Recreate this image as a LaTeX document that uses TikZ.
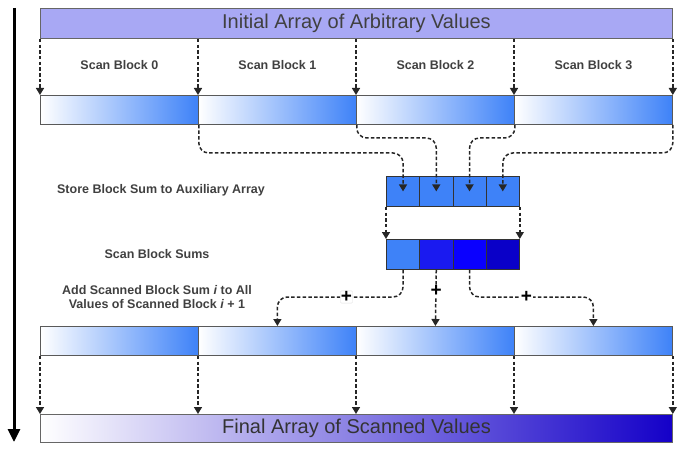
\documentclass[tikz,border=0pt]{standalone}
\usepackage{fontspec}
\setmainfont{Liberation Sans}
\usetikzlibrary{arrows.meta,calc,positioning}
\definecolor{blockblue}{RGB}{62,130,248}
\definecolor{barviolet}{RGB}{168,168,244}
\definecolor{sumA}{RGB}{62,130,248}
\definecolor{sumB}{RGB}{26,26,240}
\definecolor{sumC}{RGB}{10,0,255}
\definecolor{sumD}{RGB}{10,0,200}
\definecolor{finmid}{RGB}{125,100,228}
\definecolor{finend}{RGB}{20,0,200}
\definecolor{labelgray}{RGB}{64,64,64}
\tikzset{
  flow/.style={draw=black!85,line width=1.5pt,dash pattern=on 3.5pt off 2.2pt,
    -{Triangle[length=7pt,width=8pt]}},
  bar/.style={draw=gray!80!black,line width=0.9pt,minimum width=632pt,
    anchor=north west,inner sep=0pt,font=\fontsize{20}{24}\selectfont,text=labelgray},
  blockcell/.style={draw=gray!70!black,line width=0.8pt,left color=white,
    right color=blockblue,minimum width=158pt,minimum height=29pt,
    anchor=north west,inner sep=0pt},
  sumcell/.style={draw=gray!40!black,line width=0.8pt,minimum width=33.25pt,
    minimum height=30pt,anchor=north west,inner sep=0pt},
  steptext/.style={font=\fontsize{12.5}{14}\selectfont\bfseries,text=labelgray,align=center},
  plus/.style={font=\fontsize{19}{19}\selectfont\bfseries,fill=white,inner sep=0.5pt},
}
\begin{document}
\begin{tikzpicture}[x=1pt,y=-1pt]
  \useasboundingbox (0,0) rectangle (684,454);
  % time runs downwards
  \coordinate (tstart) at (14,8);
  \coordinate (tend) at (14,442);
  \draw[line width=3pt,-{Triangle[length=13pt,width=12pt]}] (tstart) -- (tend);

  % input array and the per-block scans
  \node[bar,fill=barviolet,minimum height=30pt] (initarr) at (40,8)
    {Initial Array of Arbitrary Values};
  \foreach \i/\x in {0/40,1/198,2/356,3/514}
    \node[blockcell] (blk\i) at (\x,95) {};
  \foreach \i in {0,...,3} {
    \node[steptext] (lbl\i) at ($(blk\i.north)+(0,-30)$) {Scan Block \i};
    \draw[flow] (blk\i.north west |- initarr.south) -- (blk\i.north west);
  }
  \draw[flow] (blk3.north east |- initarr.south) -- (blk3.north east);

  % auxiliary array of block sums
  \foreach \i in {0,...,3}
    \node[sumcell,fill=blockblue] (aux\i) at (386+33.25*\i,176) {};
  \foreach \i/\c in {0/sumA,1/sumB,2/sumC,3/sumD}
    \node[sumcell,fill=\c] (sum\i) at (386+33.25*\i,239) {};

  \coordinate (hiwire) at (0,138);
  \coordinate (lowire) at (0,153);
  \coordinate (addwire) at (0,297);
  \draw[flow,rounded corners=10pt] (blk0.south east) |- (aux0.north |- lowire) -- (aux0.center);
  \draw[flow,rounded corners=10pt] (blk1.south east) |- (aux1.north |- hiwire) -- (aux1.center);
  \draw[flow,rounded corners=10pt] (blk2.south east) |- (aux2.north |- hiwire) -- (aux2.center);
  \draw[flow,rounded corners=10pt] (blk3.south east) |- (aux3.north |- lowire) -- (aux3.center);
  \draw[flow] (aux0.south west) -- (sum0.north west);
  \draw[flow] (aux3.south east) -- (sum3.north east);

  \node[steptext] (storelbl) at (161,190) {Store Block Sum to Auxiliary Array};
  \node[steptext] (scanlbl) at (157,254) {Scan Block Sums};
  \node[steptext] (addlbl) at (157,297)
    {Add Scanned Block Sum \textit{i} to All\\Values of Scanned Block \textit{i} + 1};

  % add the scanned sums back
  \foreach \i/\x in {0/40,1/198,2/356,3/514}
    \node[blockcell] (add\i) at (\x,326) {};
  \draw[flow,rounded corners=10pt] (sum0.south) |- (add1.north |- addwire) -- (add1.north);
  \draw[flow] (sum1.south) -- (add2.north);
  \draw[flow,rounded corners=10pt] (sum2.south) |- (add3.north |- addwire) -- (add3.north);
  \node[plus,draw=gray!25,rounded corners=1pt] (plus0)
    at ($(sum0.south |- addwire)!0.45!(add1.north |- addwire)$) {+};
  \node[plus] (plus1) at ($(sum1.south)+(0,21)$) {+};
  \node[plus] (plus2)
    at ($(sum2.south |- addwire)!0.46!(add3.north |- addwire)$) {+};

  % result
  \node[bar,left color=white,middle color=finmid,right color=finend,
    minimum height=28pt,text=black!80] (finarr) at (40,414)
    {Final Array of Scanned Values};
  \foreach \i in {0,...,3}
    \draw[flow] (add\i.south west) -- (add\i.south west |- finarr.north);
  \draw[flow] (add3.south east) -- (add3.south east |- finarr.north);
\end{tikzpicture}
\end{document}
